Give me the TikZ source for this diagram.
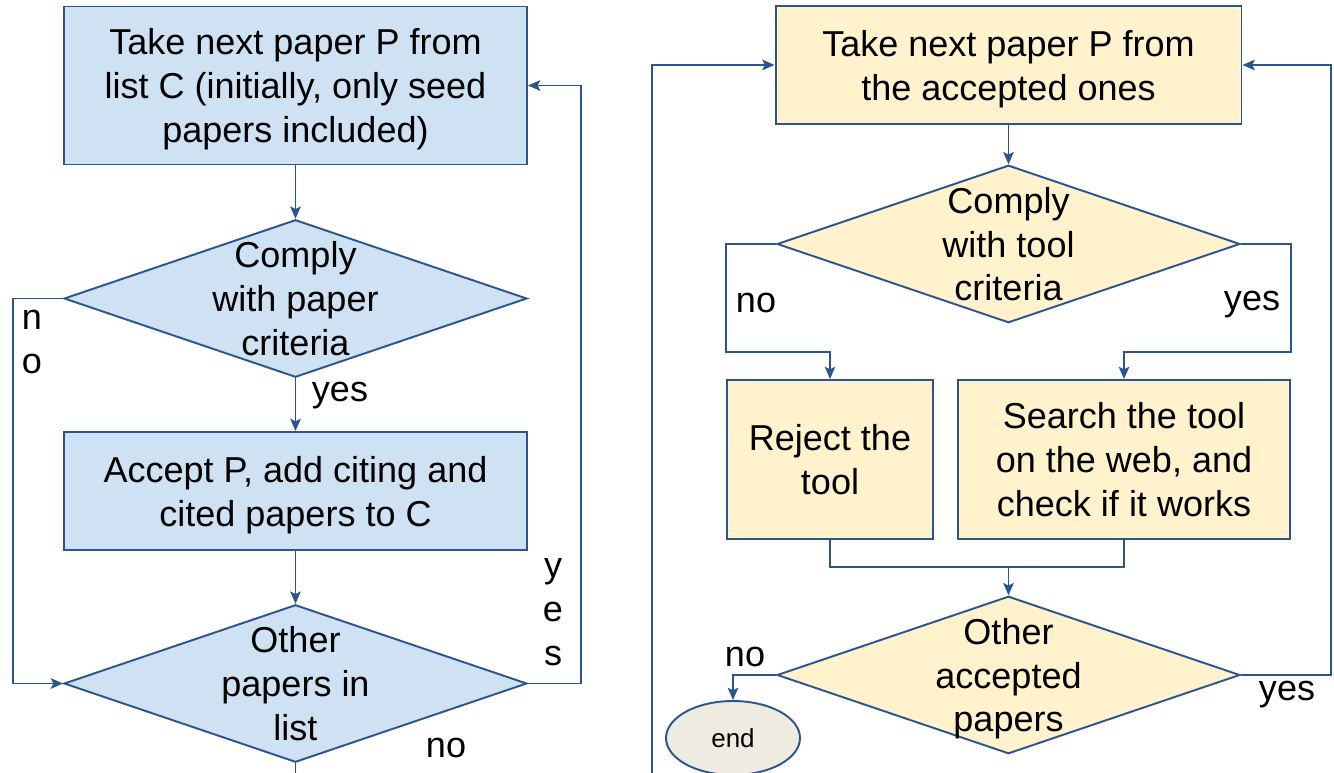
\documentclass[tikz,border=0pt]{standalone}
\usepackage{fontspec}
\setmainfont{Liberation Sans}
\usepackage{tikz}
\usetikzlibrary{calc, positioning}
\usetikzlibrary{shapes.geometric, arrows.meta}
\definecolor{flowline}{HTML}{2B5590}
\definecolor{paperfill}{HTML}{CFE2F3}
\definecolor{toolfill}{HTML}{FFF2CC}
\definecolor{endfill}{HTML}{EEECE1}
\tikzset{
  font=\fontsize{20.5pt}{25pt}\selectfont,
  % Set arrowhead
  >={Stealth[length=7pt, width=6pt, inset=1.5pt]},
  % Connector lines
  line/.style={draw=flowline, line width=1.1pt},
  flow/.style={line, ->, color=flowline},
  % Process box
  proc/.style={draw=flowline, line width=1.1pt, fill=#1, shape=rectangle,
    align=center, inner sep=0pt, text depth=0pt},
  % Decision node, text goes in a centred label
  decide/.style={draw=flowline, line width=1.1pt, fill=#1, shape=diamond,
    minimum width=9.26cm, minimum height=3.15cm, inner sep=0pt},
  dtext/.style={align=center, inner sep=0pt, text depth=0pt},
  % Terminal node
  term/.style={draw=flowline, line width=1.1pt, fill=endfill, shape=ellipse,
    minimum width=2.68cm, minimum height=1.48cm, inner sep=0pt,
    font=\fontsize{14.8pt}{17pt}\selectfont},
  % Branch labels
  lbl/.style={align=center, inner sep=0pt},
}

\begin{document}
\begin{tikzpicture}[x=0.02cm, y=-0.02cm]
      \useasboundingbox (0,0) rectangle (1334,773);

      % paper search
      \node[proc=paperfill, minimum width=9.26cm, minimum height=3.16cm] (b1)
      at (295.5,85.5) {Take next paper P from\\list C (initially, only seed\\papers included)};
      \node[decide=paperfill, label={[dtext]center:Comply\\with paper\\criteria}] (d1)
      at (295.5,298.5) {};
      \node[proc=paperfill, minimum width=9.26cm, minimum height=2.36cm] (b2)
      at (295.5,491) {Accept P, add citing and\\cited papers to C};
      \node[decide=paperfill, label={[dtext]center:Other\\papers in\\list}] (d2)
      at (295.5,683.5) {};

      \draw[flow] (b1.south) -- (d1.north);
      \draw[flow] (d1.south) -- (b2.north);
      \draw[flow] (b2.south) -- (d2.north);
      \draw[flow] (d1.west) -- ++(-50,0) |- (d2.west);
      \draw[flow] (d2.east) -- ++(53,0) |- (b1.east);
      \draw[line] (d2.south) -- ++(0,12);

      \node[lbl] (no1) at (32,342) {n\\o};
      \node[lbl] (yes1) at (340,396) {yes};
      \node[lbl] (yes2) at (553,612) {y\\e\\s};
      \node[lbl] (no2) at (446,748) {no};

      % tool search
      \node[proc=toolfill, minimum width=9.32cm, minimum height=2.36cm] (b3)
      at (1008.5,65) {Take next paper P from\\the accepted ones};
      \node[decide=toolfill, label={[dtext]center:Comply\\with tool\\criteria}] (d3)
      at (1008.5,244) {};
      \node[proc=toolfill, minimum width=4.12cm, minimum height=3.18cm] (b4)
      at (830,459.5) {Reject the\\tool};
      \node[proc=toolfill, minimum width=6.64cm, minimum height=3.18cm] (b5)
      at (1124,459.5) {Search the tool\\on the web, and\\check if it works};
      \node[decide=toolfill, label={[dtext]center:Other\\accepted\\papers}] (d4)
      at (1008.5,675) {};
      \node[term] (end) at (733,738) {end};

      \coordinate (loop) at (652,773);
      \coordinate (join) at (1008.5,567);

      \draw[flow] (loop) |- (b3.west);
      \draw[flow] (b3.south) -- (d3.north);
      \draw[flow] (d3.west) -- ++(-50,0) -- ++(0,108) -| (b4.north);
      \draw[flow] (d3.east) -- ++(50,0) -- ++(0,108) -| (b5.north);
      \draw[line] (b4.south) |- (join) -| (b5.south);
      \draw[flow] (join) -- (d4.north);
      \draw[flow] (d4.west) -| (end.north);
      \draw[flow] (d4.east) -- ++(90,0) |- (b3.east);

      \node[lbl] (no3) at (756,303) {no};
      \node[lbl] (yes3) at (1252,305) {yes};
      \node[lbl] (no4) at (745,657) {no};
      \node[lbl] (yes4) at (1287,695) {yes};
    \end{tikzpicture}
\end{document}
